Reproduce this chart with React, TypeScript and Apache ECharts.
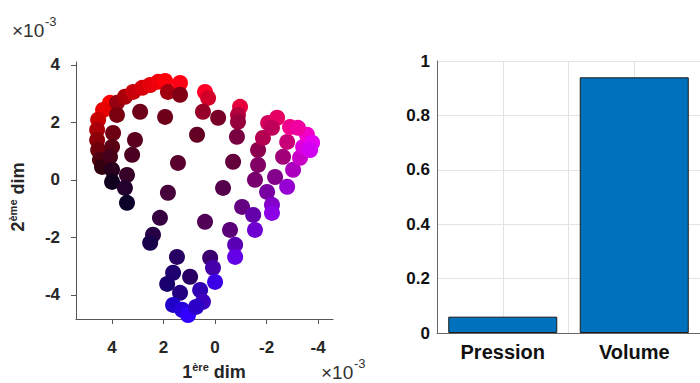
import React, { useEffect, useRef } from "react";
import * as echarts from "echarts";

// Scatter embedding (values in units of 1e-3)
const dimX = [
  4.08, 4.35, 4.54, 4.58, 4.58, 4.54, 4.47, 4.39, 3.96, 4.0, 4.08, 4.0, 4.0, 3.42, 3.5, 3.42,
  3.81, 3.5, 3.18, 2.83, 2.52, 2.21, 1.94, 1.83, 1.36, 1.36, 3.81, 2.91, 3.11, 3.22, 1.94,
  0.7, 1.44, 1.83, 2.14, 2.41, 2.52, 0.39, 0.27, 0.47, -0.12, -0.7, -0.31, 0.39, 0.19, 0.08,
  0.0, 0.58, 0.47, 0.97, 1.48, 1.63, 1.86, 1.36, 1.63, 1.28, 1.05, 0.74, -0.97, -0.89, -0.89,
  -0.85, -1.05, -0.58, -0.78, -0.78, -1.48, -1.55, -1.67, -1.67, -1.55, -1.86, -2.06, -2.41,
  -2.21, -2.64, -2.8, -2.91, -2.33, -2.02, -2.21, -2.21, -2.8, -3.03, -3.3, -3.42, -3.57,
  -3.77, -3.22, -3.69,
];
const dimY = [
  2.68, 2.43, 2.09, 1.74, 1.39, 1.04, 0.7, 0.45, 1.63, 1.15, 0.8, 0.35, -0.07, 0.17, -0.28, -0.8,
  2.68, 2.89, 3.06, 3.2, 3.3, 3.41, 3.44, 3.06, 3.37, 2.96, 2.26, 2.37, 1.39, 0.87, 2.19,
  1.57, 0.59, -0.45, -1.32, -1.91, -2.19, 3.06, 2.85, 2.37, 2.16, 0.63, -0.28, -1.46, -2.71, -3.06,
  -3.55, -3.83, -4.24, -3.37, -2.68, -3.23, -3.62, -3.93, -4.35, -4.52, -4.7, -4.42, 2.54, 2.26, 2.02,
  1.5, -0.94, -1.74, -2.26, -2.68, -1.22, -1.74, 1.04, 0.52, 0.0, 1.46, 1.98, 2.16,
  1.81, 0.8, 1.32, 1.84, 0.1, -0.42, -0.87, -1.15, -0.24, 0.35, 0.77, 1.15, 1.57,
  1.29, 1.81, 1.04,
];
const redLevel = [
  255, 230, 200, 170, 140, 110, 80, 50, 110, 90, 70, 40, 15, 55, 35, 10,
  150, 170, 200, 215, 230, 240, 255, 160, 255, 130, 120, 110, 90, 75, 110,
  100, 90, 70, 55, 40, 25, 255, 210, 150, 120, 100, 85, 80, 60, 70,
  60, 50, 60, 40, 40, 30, 25, 35, 30, 40, 50, 45, 230, 180, 150,
  120, 100, 90, 90, 100, 100, 110, 140, 130, 120, 180, 210, 230,
  190, 160, 200, 240, 130, 120, 130, 140, 150, 170, 200, 220, 240,
  230, 240, 210,
];
const blueLevel = [
  0, 0, 0, 10, 10, 10, 15, 15, 20, 20, 25, 30, 30, 40, 45, 40,
  15, 10, 10, 10, 10, 10, 10, 15, 20, 20, 15, 25, 30, 35, 25,
  35, 45, 60, 65, 70, 75, 40, 40, 40, 40, 60, 75, 85, 110, 170,
  230, 180, 190, 100, 100, 110, 110, 130, 200, 220, 255, 200, 60, 60, 60,
  65, 130, 120, 180, 230, 170, 210, 80, 100, 110, 80, 90, 100,
  90, 120, 120, 140, 140, 160, 200, 230, 210, 190, 200, 220, 200,
  240, 160, 240,
];
const scatterTicks = [-4, -2, 0, 2, 4];

// Bar chart
const categories = ["Pression", "Volume"];
const contributions = [0.06, 0.94];
const barTicks = [0, 0.2, 0.4, 0.6, 0.8, 1];

export default function App() {
  const ref = useRef<HTMLDivElement>(null);
  useEffect(() => {
    if (!ref.current) return;
    const chart = echarts.init(ref.current, undefined, { renderer: "svg" });
    const txt = "#262626";
    const font = "Liberation Sans, Arial, sans-serif";
    const scatterData = dimX.map((x, i) => ({
      value: [x, dimY[i]],
      itemStyle: { color: `rgb(${redLevel[i]},0,${blueLevel[i]})`, opacity: 1 },
    }));
    const barData = contributions.map((v, i) => [i + 1, v]);
    const supRich = {
      b: { fontSize: 18, fontWeight: "bold", fontFamily: font, fill: txt, lineHeight: 22 },
      s: { fontSize: 11, fontWeight: "bold", fontFamily: font, fill: txt, verticalAlign: "top", lineHeight: 22 },
    };
    chart.setOption({
      animation: false,
      textStyle: { fontFamily: font },
      grid: [
        { left: 76, right: 367, top: 62, bottom: 64 },
        { left: 437, right: -10, top: 61, bottom: 50 },
      ],
      xAxis: [
        {
          gridIndex: 0,
          type: "value",
          inverse: true,
          min: -4.58,
          max: 5.4,
          splitLine: { show: false },
          axisLine: { show: true, onZero: false, lineStyle: { color: "#555", width: 1 } },
          axisTick: { show: true, length: 5, customValues: scatterTicks, lineStyle: { color: "#555" } },
          axisLabel: {
            customValues: scatterTicks,
            margin: 20,
            fontSize: 17,
            fontWeight: "bold",
            color: txt,
            fontFamily: font,
          },
        },
        {
          gridIndex: 1,
          type: "value",
          min: 0.5,
          max: 2.5,
          interval: 0.5,
          splitLine: { show: true, lineStyle: { color: "#e3e3e3", width: 1 } },
          axisLine: { show: true, onZero: false, lineStyle: { color: "#666", width: 1 } },
          axisTick: { show: false },
          axisLabel: {
            customValues: [1, 2],
            formatter: (v: number) => categories[Math.round(v) - 1] ?? "",
            margin: 9,
            fontSize: 20,
            fontWeight: "bold",
            color: "#111",
            fontFamily: font,
          },
        },
      ],
      yAxis: [
        {
          gridIndex: 0,
          type: "value",
          min: -4.84,
          max: 4.1,
          splitLine: { show: false },
          axisLine: { show: true, onZero: false, lineStyle: { color: "#555", width: 1 } },
          axisTick: { show: true, length: 5, customValues: scatterTicks, lineStyle: { color: "#555" } },
          axisLabel: {
            customValues: scatterTicks,
            margin: 16,
            fontSize: 17,
            fontWeight: "bold",
            color: txt,
            fontFamily: font,
          },
        },
        {
          gridIndex: 1,
          type: "value",
          min: 0,
          max: 1,
          interval: 0.2,
          splitLine: { show: true, lineStyle: { color: "#e3e3e3", width: 1 } },
          axisLine: { show: true, onZero: false, lineStyle: { color: "#666", width: 1 } },
          axisTick: { show: false },
          axisLabel: {
            customValues: barTicks,
            margin: 7,
            fontSize: 17,
            fontWeight: "bold",
            color: "#111",
            fontFamily: font,
          },
        },
      ],
      series: [
        {
          type: "scatter",
          xAxisIndex: 0,
          yAxisIndex: 0,
          symbolSize: 16,
          itemStyle: { opacity: 1 },
          data: scatterData,
        },
        {
          type: "bar",
          xAxisIndex: 1,
          yAxisIndex: 1,
          barWidth: 109,
          data: barData,
          itemStyle: { color: "#0072BD", borderColor: "#1a1a1a", borderWidth: 1 },
        },
      ],
      graphic: [
        {
          type: "group",
          x: 18,
          y: 197,
          rotation: Math.PI / 2,
          children: [
            {
              type: "text",
              x: 0,
              y: 0,
              style: {
                text: "{b|2}{s|ème}{b| dim}",
                align: "center",
                verticalAlign: "middle",
                fill: txt,
                rich: supRich,
              },
            },
          ],
        },
        {
          type: "text",
          x: 214,
          y: 372,
          style: {
            text: "{b|1}{s|ère}{b| dim}",
            align: "center",
            verticalAlign: "middle",
            fill: txt,
            rich: supRich,
          },
        },
        {
          type: "text",
          x: 12,
          y: 30,
          style: { text: "×10", fontSize: 19, fontFamily: font, fill: "#333", verticalAlign: "middle" },
        },
        {
          type: "text",
          x: 45,
          y: 21,
          style: { text: "-3", fontSize: 13, fontFamily: font, fill: "#333", verticalAlign: "middle" },
        },
        {
          type: "text",
          x: 321,
          y: 372,
          style: { text: "×10", fontSize: 19, fontFamily: font, fill: "#333", verticalAlign: "middle" },
        },
        {
          type: "text",
          x: 354,
          y: 363,
          style: { text: "-3", fontSize: 13, fontFamily: font, fill: "#333", verticalAlign: "middle" },
        },
      ],
    });
    return () => chart.dispose();
  }, []);
  return (
    <div
      ref={ref}
      style={{ position: "absolute", left: 0, top: 0, width: 700, height: 383, background: "#fff" }}
    />
  );
}
